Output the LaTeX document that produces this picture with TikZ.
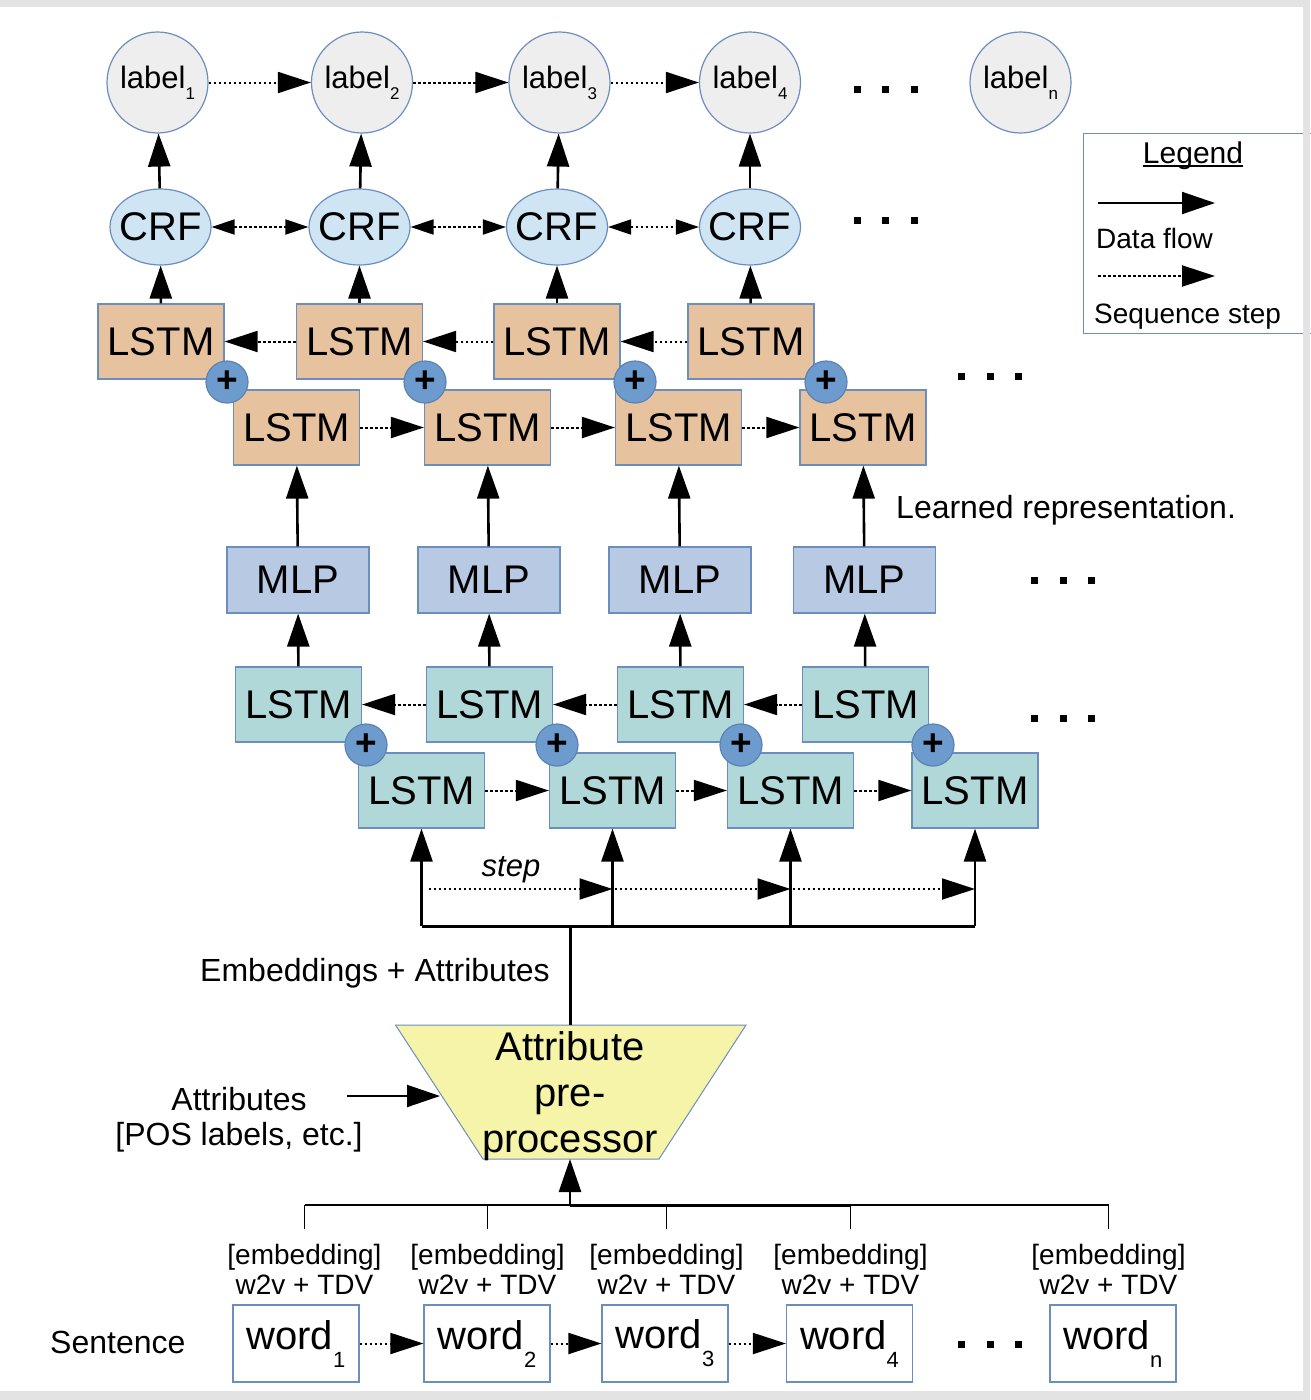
\documentclass[tikz,border=0pt]{standalone}
\usepackage{fontspec}
\setmainfont{Liberation Sans}
\usepackage{tikz}
\usetikzlibrary{positioning, shapes.geometric, arrows.meta}
\definecolor{edgeblue}{HTML}{6C8EBF}
\definecolor{labelgray}{HTML}{EEEEEE}
\definecolor{crfblue}{HTML}{CFE5F4}
\definecolor{lstmtan}{HTML}{E7C29E}
\definecolor{lstmteal}{HTML}{B1D8D8}
\definecolor{mlpblue}{HTML}{B7C9E3}
\definecolor{plusblue}{HTML}{6E9BCD}
\definecolor{plusedge}{HTML}{5B82B5}
\definecolor{preyellow}{HTML}{F5F4A8}
\definecolor{framegray}{HTML}{E3E3E3}
\newcommand{\fsz}[1]{\fontsize{#1}{#1}\selectfont}
\newcommand{\lsub}[1]{\raisebox{-11pt}{\fsz{17}#1}}
\newcommand{\wsub}[1]{\raisebox{-18pt}{\fsz{22}#1}}
\newcommand{\ulined}[1]{\setbox0\hbox{#1}\rlap{\rule[-3.5pt]{\wd0}{1.5pt}}\box0}
\newcommand{\ellipsisdots}[2]{\foreach \d in {-28.5,0,28.5} \fill ({#1+\d-3.5},{#2-3.5}) rectangle ++(7,7);}
\tikzset{
  lab/.style={circle, draw=edgeblue, fill=labelgray, line width=1.2pt, minimum size=101pt, inner sep=0pt, font=\fsz{31}},
  crf/.style={ellipse, draw=edgeblue, fill=crfblue, line width=1.2pt, minimum width=101pt, minimum height=76pt, inner sep=0pt, font=\fsz{40}},
  lstmcell/.style={rectangle, draw=edgeblue, line width=1.2pt, minimum width=126pt, minimum height=75pt, inner sep=0pt, font=\fsz{40}},
  lstmo/.style={lstmcell, fill=lstmtan},
  lstmt/.style={lstmcell, fill=lstmteal},
  mlp/.style={lstmcell, fill=mlpblue, minimum width=142pt, minimum height=66pt},
  plusc/.style={circle, draw=plusedge, fill=plusblue, line width=1.2pt, minimum size=42pt, inner sep=0pt, font=\fsz{37}\bfseries},
  wordbox/.style={lstmcell, fill=white, minimum height=77pt},
  embtxt/.style={align=center, inner xsep=0pt, inner ysep=15pt, font=\fontsize{28}{30}\selectfont},
  plaintxt/.style={inner sep=0pt, anchor=base west},
  flow/.style={-{Triangle[length=33pt,width=22pt]}, line width=2.6pt},
  seqarrow/.style={-{Triangle[length=33pt,width=21pt]}, line width=2pt, dash pattern=on 2.5pt off 2.5pt},
  seqboth/.style={{Triangle[length=23pt,width=15pt]}-{Triangle[length=23pt,width=15pt]}, line width=2pt, dash pattern=on 2.5pt off 2.5pt},
  bus/.style={line width=3pt}
}

\begin{document}
\begin{tikzpicture}[x=1pt, y=-1pt]
	\useasboundingbox (0,0) rectangle (1310,1400);
	\fill[framegray] (0,0) rectangle (1310,1400);
	\fill[white] (0,7) rectangle (1303,1391);
	% output side
	\foreach \i/\x in {1/157.5,2/362,3/559.5,4/750} \node[lab] (lab\i) at (\x,82.5) {label\lsub{\i}};
	\node[lab] (labn) at (1020.5,82.5) {label\lsub{n}};
	\foreach \i/\x in {1/160.5,2/359.5,3/557,4/750} \node[crf] (crf\i) at (\x,227) {\makebox[0pt]{CRF}};
	\foreach \i/\x in {1/161,2/359.5,3/557,4/751} \node[lstmo] (ob\i) at (\x,341.5) {LSTM};
	\foreach \i/\x in {1/296.5,2/487.5,3/678.5,4/863} \node[lstmo] (of\i) at (\x,427.5) {LSTM};
	\foreach \i/\x in {1/227,2/425,3/635,4/826} \node[plusc] (po\i) at (\x,382) {+};
	\foreach \i/\x in {1/298,2/489,3/680,4/864.5} \node[mlp] (mlp\i) at (\x,580) {MLP};
	\foreach \i/\x in {1/298.5,2/489.5,3/680.5,4/865.5} \node[lstmt] (tb\i) at (\x,704.5) {LSTM};
	\foreach \i/\x in {1/421.5,2/612.5,3/790.5,4/975} \node[lstmt] (tf\i) at (\x,790.5) {LSTM};
	\foreach \i/\x in {1/366,2/557,3/741,4/933} \node[plusc] (pt\i) at (\x,745) {+};
	\foreach \i/\j in {1/2,2/3,3/4} {
		\draw[seqarrow] (lab\i) -- (lab\j);
		\draw[seqboth] (crf\i) -- (crf\j);
		\draw[seqarrow] (ob\j) -- (ob\i);
		\draw[seqarrow] (of\i) -- (of\j);
		\draw[seqarrow] (tb\j) -- (tb\i);
		\draw[seqarrow] (tf\i) -- (tf\j);
	}
	\foreach \i in {1,...,4} {
		\draw[flow] (crf\i) -- (lab\i);
		\draw[flow] (ob\i) -- (crf\i);
		\draw[flow] (mlp\i) -- (of\i);
		\draw[flow] (tb\i) -- (mlp\i);
	}
	\ellipsisdots{885.5}{89} \ellipsisdots{885.5}{220} \ellipsisdots{990}{376}
	\ellipsisdots{1063}{580} \ellipsisdots{1063}{718}
	\node[plaintxt, font=\fsz{32}] (learned) at (896,518) {Learned representation.};
	% input fan-out
	\coordinate (busy) at (0,926);
	\coordinate (stepy) at (0,889);
	\coordinate (trunk) at (570,926);
	\foreach \i in {1,...,4} {
		\coordinate (bus\i) at (tf\i |- busy);
		\coordinate (st\i) at (tf\i |- stepy);
		\draw[flow] (bus\i) -- (tf\i);
	}
	\draw[bus] (bus1) -- (bus4);
	\draw[seqarrow, shorten <=7pt] (st1) -- (st2);
	\draw[seqarrow, shorten <=2pt] (st2) -- (st3);
	\draw[seqarrow, shorten <=2pt] (st3) -- (st4);
	\node[font=\fsz{31}\itshape, anchor=base] (steplbl) at (511,876) {step};
	\node[font=\fsz{32}, anchor=base] (embattr) at (375,981) {Embeddings + Attributes};
	% attribute pre-processor
	\draw[draw=edgeblue, fill=preyellow, line width=1pt] (395.5,1025) -- (746,1025) -- (659,1159) -- (483,1159) -- cycle;
	\coordinate (pretop) at (570,1025);
	\coordinate (prebot) at (570,1159);
	\coordinate (preleft) at (440,1096);
	\node[font=\fontsize{40}{46}\selectfont, align=center] (pretext) at (570,1096) {Attribute\\pre-\\processor};
	\draw[bus] (trunk) -- (pretop);
	\node[font=\fontsize{32}{35}\selectfont, align=center] (attrs) at (239,1120) {Attributes\\{}[POS labels, etc.]};
	\coordinate (attrtail) at (347,1096);
	\draw[flow, line width=2pt] (attrtail) -- (preleft);
	% sentence
	\coordinate (wbusy) at (0,1205);
	\coordinate (wtrunk) at (570,1205);
	\foreach \i/\x in {1/304.5,2/487.5,3/666.5,4/850.5,5/1108.5} {
		\node[embtxt] (emb\i) at (\x,1269) {[embedding]\\w2v + TDV};
		\coordinate (tick\i) at (emb\i |- wbusy);
		\draw[line width=1.6pt] (tick\i) -- (emb\i.north);
	}
	\draw[line width=1.6pt] (tick1) -- (tick5);
	\draw[bus] (wtrunk) -- (tick4);
	\draw[flow] (wtrunk) -- (prebot);
	\foreach \i/\x in {1/296,2/487,3/665,4/849.5} \node[wordbox] (w\i) at (\x,1343.5) {word\wsub{\i}};
	\node[wordbox] (wn) at (1113,1343.5) {word\wsub{n}};
	\foreach \i/\j in {1/2,2/3,3/4} \draw[seqarrow] (w\i) -- (w\j);
	\ellipsisdots{990}{1344}
	\node[plaintxt, font=\fsz{32}] (sentence) at (50,1353) {Sentence};
	% legend
	\node[draw=edgeblue, line width=1.2pt, minimum width=240pt, minimum height=200pt, anchor=north west, inner sep=0pt] (legend) at (1083,133) {};
	\node[font=\fsz{30}, anchor=base] (legendttl) at (1193,163) {\ulined{Legend}};
	\coordinate (flowa) at (1098,203);
	\coordinate (flowb) at (1215,203);
	\draw[flow, line width=2pt] (flowa) -- (flowb);
	\node[plaintxt, font=\fsz{28}] (flowtxt) at (1096,248) {Data flow};
	\coordinate (seqa) at (1098,276);
	\coordinate (seqb) at (1215,276);
	\draw[seqarrow] (seqa) -- (seqb);
	\node[plaintxt, font=\fsz{28}] (seqtxt) at (1094,323) {Sequence step};
	\fill[framegray] (1303,0) rectangle (1310,1400);
\end{tikzpicture}
\end{document}
